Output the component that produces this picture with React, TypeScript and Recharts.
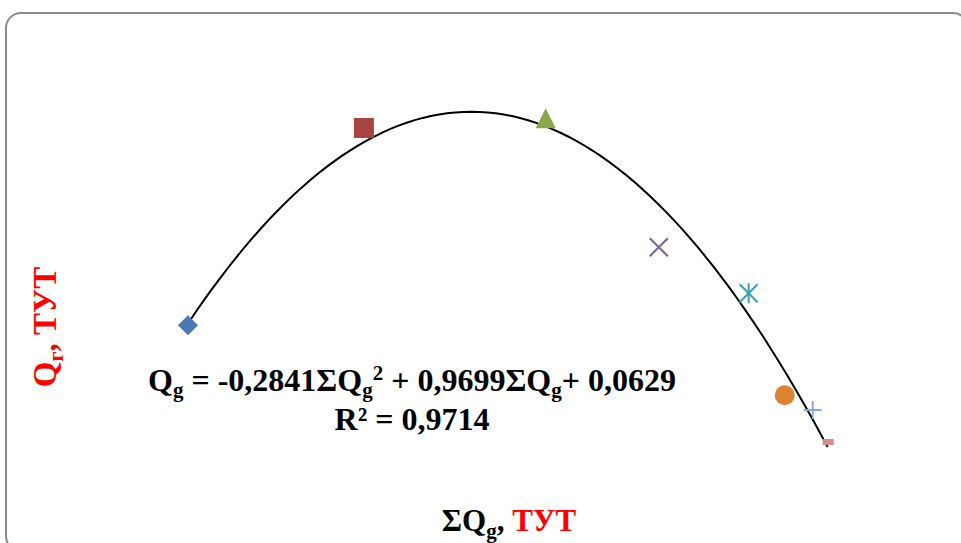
import React from "react";
import { ScatterChart, Scatter, XAxis, YAxis, Customized } from "recharts";

// trendline coefficients as printed on the chart
const coefA = -0.2841;
const coefB = 0.9699;
const coefC = 0.0629;

const diamondPts = [{ x: 0.342, y: 0.357 }];
const squarePts = [{ x: 1.19, y: 0.85 }];
const trianglePts = [{ x: 2.066, y: 0.872 }];
const crossPts = [{ x: 2.611, y: 0.552 }];
const starPts = [{ x: 3.044, y: 0.437 }];
const circlePts = [{ x: 3.218, y: 0.182 }];
const plusPts = [{ x: 3.353, y: 0.145 }];
const dashPts = [{ x: 3.425, y: 0.065 }];

const xMin = 0.342;
const xMax = 3.425;
const trend = Array.from({ length: 80 }, (_, i) => {
  const x = xMin + ((xMax - xMin) * i) / 79;
  return { x, y: coefA * x * x + coefB * x + coefC };
});

const Diamond = ({ cx, cy }: any) => (
  <polygon points={`${cx},${cy - 10} ${cx + 10},${cy} ${cx},${cy + 10} ${cx - 10},${cy}`} fill="#4a7ab4" />
);
const Square = ({ cx, cy }: any) => (
  <rect x={cx - 10} y={cy - 10} width={20} height={20} fill="#a84442" />
);
const Triangle = ({ cx, cy }: any) => (
  <polygon points={`${cx},${cy - 11} ${cx + 10},${cy + 9} ${cx - 10},${cy + 9}`} fill="#89a84a" />
);
const Cross = ({ cx, cy }: any) => (
  <g stroke="#7a5e9c" strokeWidth={2}>
    <line x1={cx - 9} y1={cy - 9} x2={cx + 9} y2={cy + 9} />
    <line x1={cx - 9} y1={cy + 9} x2={cx + 9} y2={cy - 9} />
  </g>
);
const Star = ({ cx, cy }: any) => (
  <g stroke="#3f9db4" strokeWidth={2}>
    <line x1={cx - 9} y1={cy - 9} x2={cx + 9} y2={cy + 9} />
    <line x1={cx - 9} y1={cy + 9} x2={cx + 9} y2={cy - 9} />
    <line x1={cx} y1={cy - 10} x2={cx} y2={cy + 10} />
  </g>
);
const Circle = ({ cx, cy }: any) => <circle cx={cx} cy={cy} r={10} fill="#de8235" />;
const Plus = ({ cx, cy }: any) => (
  <g stroke="#8ea8d6" strokeWidth={2}>
    <line x1={cx - 9} y1={cy} x2={cx + 9} y2={cy} />
    <line x1={cx} y1={cy - 9} x2={cx} y2={cy + 9} />
  </g>
);
const Dash = ({ cx, cy }: any) => (
  <rect x={cx - 5} y={cy - 3} width={11} height={6} fill="#d48d8d" />
);

const serif = "'Liberation Serif', 'Times New Roman', serif";

const Labels = () => (
  <g fontFamily={serif} fontWeight="bold">
    <text x={412} y={391} textAnchor="middle" fontSize={32} fill="#000">
      Q<tspan fontSize={21} dy={6}>g</tspan>
      <tspan dy={-6}> = -0,2841ΣQ</tspan>
      <tspan fontSize={21} dy={6}>g</tspan>
      <tspan fontSize={21} dy={-17}>2</tspan>
      <tspan dy={11}> + 0,9699ΣQ</tspan>
      <tspan fontSize={21} dy={6}>g</tspan>
      <tspan dy={-6}>+ 0,0629</tspan>
    </text>
    <text x={412} y={430} textAnchor="middle" fontSize={32} fill="#000">
      R² = 0,9714
    </text>
    <text
      x={0}
      y={0}
      transform="translate(56,327) rotate(-90)"
      textAnchor="middle"
      fontSize={33}
      fill="#ff0000"
    >
      Q<tspan fontSize={22} dy={7}>г</tspan>
      <tspan dy={-7}>, ТУТ</tspan>
    </text>
    <text x={509} y={531} textAnchor="middle" fontSize={31} fill="#000">
      ΣQ<tspan fontSize={21} dy={7}>g</tspan>
      <tspan dy={-7}>, </tspan>
      <tspan fill="#ff0000">ТУТ</tspan>
    </text>
  </g>
);

export default function App() {
  return (
    <div style={{ position: "absolute", left: 0, top: 0, width: 961, height: 543, overflow: "hidden", background: "#fff" }}>
      <div
        style={{
          position: "absolute",
          left: 5,
          top: 12,
          width: 960,
          height: 536,
          border: "2px solid #8a8a8a",
          borderRadius: 16,
        }}
      />
      <ScatterChart
        width={961}
        height={543}
        margin={{ top: 68, right: 14, bottom: 75, left: 117 }}
        style={{ position: "absolute", left: 0, top: 0 }}
      >
        <XAxis type="number" dataKey="x" domain={[0, 4]} hide />
        <YAxis type="number" dataKey="y" domain={[0, 1]} hide />
        <Scatter
          data={trend}
          line={{ stroke: "#000", strokeWidth: 2 }}
          lineType="joint"
          shape={() => null}
          isAnimationActive={false}
        />
        <Scatter data={diamondPts} shape={Diamond} isAnimationActive={false} />
        <Scatter data={squarePts} shape={Square} isAnimationActive={false} />
        <Scatter data={trianglePts} shape={Triangle} isAnimationActive={false} />
        <Scatter data={crossPts} shape={Cross} isAnimationActive={false} />
        <Scatter data={starPts} shape={Star} isAnimationActive={false} />
        <Scatter data={circlePts} shape={Circle} isAnimationActive={false} />
        <Scatter data={plusPts} shape={Plus} isAnimationActive={false} />
        <Scatter data={dashPts} shape={Dash} isAnimationActive={false} />
        <Customized component={Labels} />
      </ScatterChart>
    </div>
  );
}
